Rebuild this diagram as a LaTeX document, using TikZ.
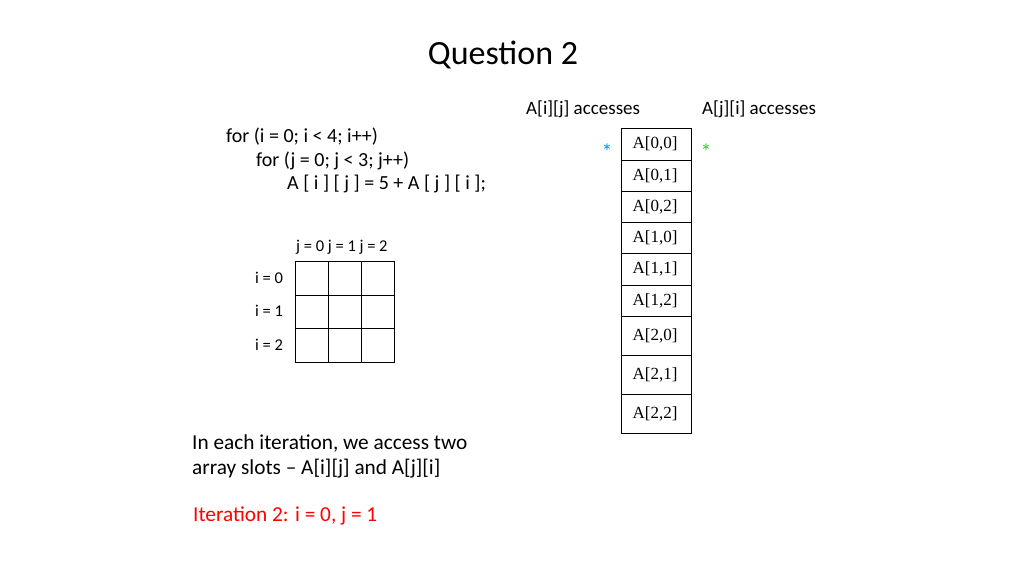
\documentclass[tikz,border=0pt]{standalone}
\usepackage{fontspec}
\setmainfont{Carlito}
\newfontfamily\tnr{Liberation Serif}
\begin{document}
\begin{tikzpicture}[x=1pt,y=-1pt,
  txt/.style={anchor=west,inner sep=0pt,font=\fontsize{20}{24}\selectfont},
  small/.style={anchor=west,inner sep=0pt,font=\fontsize{16.5}{19}\selectfont},
  big/.style={anchor=west,inner sep=0pt,font=\fontsize{21.3}{25}\selectfont}]
\useasboundingbox (0,0) rectangle (1024,576);
\node[inner sep=0pt,font=\fontsize{34}{40}\selectfont] (title) at (503,55) {Question 2};
\node[txt,font=\fontsize{19}{22}\selectfont] (h1) at (526,109) {A[i][j] accesses};
\node[txt,font=\fontsize{19}{22}\selectfont] (h2) at (702,109) {A[j][i] accesses};
\node[txt] (c1) at (226,137) {for (i = 0; i < 4; i++)};
\node[txt] (c2) at (256,161) {for (j = 0; j < 3; j++)};
\node[txt] (c3) at (287,184) {A [ i ] [ j ] = 5 + A [ j ] [ i ];};
\node[small] (jl) at (296,247) {j = 0 j = 1 j = 2};
\node[small] (i0) at (255,278) {i = 0};
\node[small] (i1) at (255,311) {i = 1};
\node[small] (i2) at (255,345) {i = 2};
\draw[line width=0.8pt] (295,261) rectangle (394,362);
\foreach \x in {328,361} \draw[line width=0.8pt] (\x,261) -- (\x,362);
\foreach \y in {295,328} \draw[line width=0.8pt] (295,\y) -- (394,\y);
\foreach \a/\b/\t in {128/160/{0,0},160/191/{0,1},191/222/{0,2},222/253/{1,0},253/285/{1,1},285/316/{1,2},316/355/{2,0},355/394/{2,1},394/433/{2,2}}{
  \draw[line width=0.8pt] (621,\a) rectangle (691,\b);
  \node[font=\tnr\fontsize{17}{19}\selectfont] at (655,{(\a+\b)/2}) {A[\t]};}
\node[text=cyan!80!blue,font=\fontsize{22}{22}\selectfont] (s1) at (607,152) {*};
\node[text=green!60!gray,font=\fontsize{22}{22}\selectfont] (s2) at (706,152) {*};
\node[big] (n1) at (192,443) {In each iteration, we access two};
\node[big] (n2) at (192,469) {array slots – A[i][j] and A[j][i]};
\node[big,text=red] (it) at (193,516) {Iteration 2: i = 0, j = 1};
\end{tikzpicture}
\end{document}
